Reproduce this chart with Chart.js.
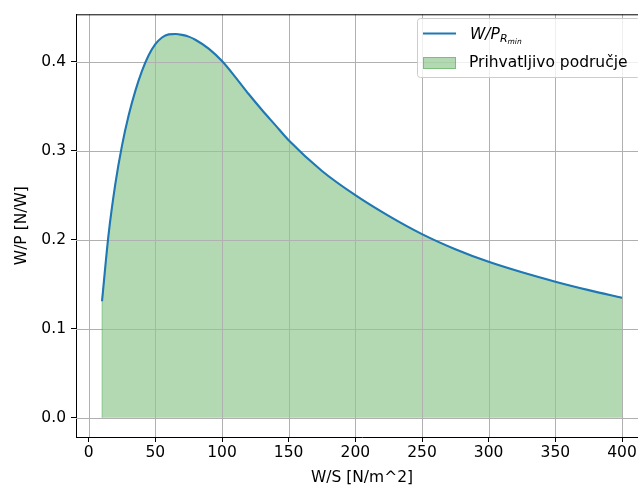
<!DOCTYPE html>
<html>
<head>
<meta charset="utf-8">
<script src="https://cdn.jsdelivr.net/npm/chart.js@4"></script>
<style>
    html, body { margin: 0; padding: 0; background: #fff; overflow: hidden; }
    #wrap { width: 638px; height: 488px; overflow: hidden; }
</style>
</head>
<body>
<div id="wrap"><canvas id="chart" width="660" height="488"></canvas></div>
<script>
// W/S [N/m^2] -> W/P [N/W]
const wsValues = [10, 15, 20, 25, 30, 35, 40, 45, 50, 55, 60, 65, 70, 75, 80, 90, 100,
    110, 120, 130, 140, 150, 175, 200, 225, 250, 275, 300, 325, 350, 375, 400];
const wpValues = [0.131, 0.207, 0.263, 0.306, 0.340, 0.3675, 0.390, 0.4075, 0.420, 0.4275,
    0.431, 0.4315, 0.4305, 0.4285, 0.425, 0.415, 0.401, 0.383, 0.364, 0.346, 0.329,
    0.312, 0.2775, 0.2503, 0.227, 0.2065, 0.1895, 0.1753, 0.1635, 0.153, 0.1435, 0.1348];

const xTicks = [0, 50, 100, 150, 200, 250, 300, 350, 400];
const yTicks = [0.0, 0.1, 0.2, 0.3, 0.4];

const lineLabel = 'W/P_R_min';
const fillLabel = 'Prihvatljivo područje';

const FONT = "'DejaVu Sans', sans-serif";
const FS = 15.5;
const points = wsValues.map((x, i) => ({ x: x, y: wpValues[i] }));

// grid above the fill but below the line, top spine, legend with subscript
const extras = {
    id: 'extras',
    beforeDatasetDraw(chart, args) {
        if (args.index !== 0) return;
        const ctx = chart.ctx;
        const a = chart.chartArea;
        const xs = chart.scales.x, ys = chart.scales.y;
        ctx.save();
        ctx.strokeStyle = '#b0b0b0';
        ctx.lineWidth = 1;
        ctx.beginPath();
        xTicks.forEach(v => {
            const px = Math.round(xs.getPixelForValue(v)) + 0.5;
            ctx.moveTo(px, a.top);
            ctx.lineTo(px, a.bottom);
        });
        yTicks.forEach(v => {
            const py = Math.round(ys.getPixelForValue(v)) + 0.5;
            ctx.moveTo(a.left, py);
            ctx.lineTo(a.right, py);
        });
        ctx.stroke();

        // left edge of the filled region
        const x0 = xs.getPixelForValue(wsValues[0]);
        ctx.strokeStyle = 'rgba(0,128,0,0.3)';
        ctx.beginPath();
        ctx.moveTo(x0, ys.getPixelForValue(0));
        ctx.lineTo(x0, ys.getPixelForValue(wpValues[0]));
        ctx.stroke();
        ctx.restore();
    },
    afterDraw(chart) {
        const ctx = chart.ctx;
        const a = chart.chartArea;
        ctx.save();
        ctx.strokeStyle = '#000';
        ctx.lineWidth = 1;
        ctx.beginPath();
        ctx.moveTo(a.left, a.top + 0.5);
        ctx.lineTo(a.right, a.top + 0.5);
        ctx.stroke();

        // legend frame
        const lx = 417.5, ly = 18.5, lw = 223, lh = 59;
        ctx.fillStyle = 'rgba(255,255,255,0.8)';
        ctx.strokeStyle = '#cccccc';
        ctx.beginPath();
        ctx.roundRect(lx, ly, lw, lh, 3);
        ctx.fill();
        ctx.stroke();

        // line entry
        ctx.strokeStyle = '#1f77b4';
        ctx.lineWidth = 2;
        ctx.beginPath();
        ctx.moveTo(423, 33.5);
        ctx.lineTo(456, 33.5);
        ctx.stroke();
        ctx.fillStyle = '#000';
        ctx.textBaseline = 'alphabetic';
        ctx.textAlign = 'left';
        ctx.font = 'italic ' + FS + 'px ' + FONT;
        const parts = lineLabel.split('_');
        ctx.fillText(parts[0], 470, 39);
        let tx = 470 + ctx.measureText(parts[0]).width;
        ctx.font = 'italic 11px ' + FONT;
        ctx.fillText(parts[1], tx, 42);
        tx += ctx.measureText(parts[1]).width;
        ctx.font = 'italic 7.5px ' + FONT;
        ctx.fillText(parts[2], tx, 44);

        // fill entry
        ctx.fillStyle = 'rgba(0,128,0,0.3)';
        ctx.strokeStyle = 'rgba(0,128,0,0.3)';
        ctx.lineWidth = 1;
        ctx.fillRect(423, 57, 33, 12);
        ctx.strokeRect(423.5, 57.5, 32, 11);
        ctx.fillStyle = '#000';
        ctx.font = FS + 'px ' + FONT;
        ctx.textBaseline = 'middle';
        ctx.fillText(fillLabel, 469, 63);
        ctx.restore();
    }
};

new Chart(document.getElementById('chart').getContext('2d'), {
    type: 'line',
    data: {
        datasets: [{
            label: lineLabel,
            data: points,
            borderColor: '#1f77b4',
            borderWidth: 2.1,
            pointRadius: 0,
            fill: false,
            cubicInterpolationMode: 'monotone',
        }, {
            label: fillLabel,
            data: points,
            borderColor: 'rgba(0,128,0,0.3)',
            borderWidth: 1,
            backgroundColor: 'rgba(0,128,0,0.3)',
            pointRadius: 0,
            fill: 'origin',
            cubicInterpolationMode: 'monotone',
        }]
    },
    options: {
        responsive: false,
        animation: false,
        layout: { padding: { top: 11.7, right: 12, left: 0, bottom: 0 } },
        plugins: { legend: { display: false }, tooltip: { enabled: false } },
        scales: {
            x: {
                type: 'linear',
                min: -9.5,
                max: 419.5,
                afterBuildTicks: s => { s.ticks = xTicks.map(v => ({ value: v })); },
                afterFit: s => { s.height = 51; },
                grid: { drawOnChartArea: false, tickColor: '#000', tickLength: 5 },
                border: { color: '#000', width: 1 },
                ticks: { color: '#000', font: { family: FONT, size: FS }, padding: 2, maxRotation: 0,
                    callback: v => String(v) },
                title: { display: true, text: 'W/S [N/m^2]', color: '#000',
                    font: { family: FONT, size: FS }, padding: { top: 0, bottom: 1 } }
            },
            y: {
                min: -0.0216,
                max: 0.4536,
                afterBuildTicks: s => { s.ticks = yTicks.map(v => ({ value: v })); },
                afterFit: s => { s.width = 76; },
                grid: { drawOnChartArea: false, tickColor: '#000', tickLength: 5 },
                border: { color: '#000', width: 1 },
                ticks: { color: '#000', font: { family: FONT, size: FS }, padding: 5,
                    callback: v => v.toFixed(1) },
                title: { display: true, text: 'W/P [N/W]', color: '#000',
                    font: { family: FONT, size: FS }, padding: { top: 12.5, bottom: 0 } }
            }
        }
    },
    plugins: [extras]
});
</script>
</body>
</html>
